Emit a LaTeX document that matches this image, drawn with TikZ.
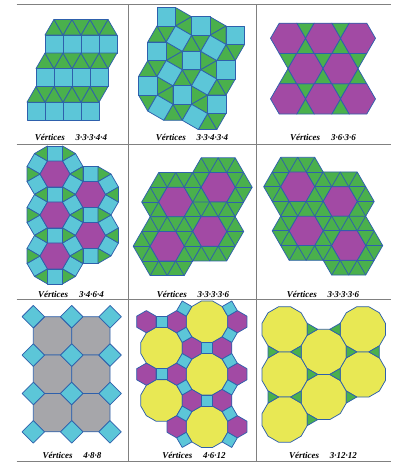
\documentclass[tikz,border=0pt]{standalone}
\usepackage{fontspec}
\setmainfont{Liberation Serif}
\definecolor{tilecyan}{RGB}{92,198,216}
\definecolor{tilegreen}{RGB}{74,176,76}
\definecolor{tilemagenta}{RGB}{162,74,164}
\definecolor{tileyellow}{RGB}{232,232,84}
\definecolor{tilegray}{RGB}{166,166,170}
\definecolor{tileedge}{RGB}{46,96,172}
\colorlet{rulecol}{black!50}
\tikzset{
  tile/.style={draw=tileedge, line width=0.75pt, line join=round},
  sqtile/.style={tile, fill=tilecyan},
  tritile/.style={tile, fill=tilegreen},
  hextile/.style={tile, fill=tilemagenta},
  octtile/.style={tile, fill=tilegray},
  dodtile/.style={tile, fill=tileyellow},
  lbl/.style={font=\bfseries\itshape\fontsize{9}{11}\selectfont, inner sep=0pt},
  snubcell/.style 2 args={shift={({#1*1.866+#2*0.5},{-#1*0.5+#2*1.866})}}
}

\begin{document}
\begin{tikzpicture}[x=1pt, y=-1pt]

  \fill[white] (0,0) rectangle (394,464);
  \useasboundingbox (0,0) rectangle (394,464);

  % Table rules.
  \foreach \y in {4.3,144,299.3,461.7}
    \draw[rulecol, line width=0.8pt] (16.7,\y) -- (390.5,\y);
  \foreach \x in {128.3,256}
    \draw[rulecol, line width=0.8pt] (\x,4.3) -- (\x,461.7);

  % 3.3.3.4.4
  \begin{scope}[shift={(27,120.2)}, x=18pt, y=18pt]
    \foreach \r in {0,1,2}
      \foreach \k in {0,...,3} {
        \draw[sqtile] ({\k+0.5*\r},{\r*1.866}) rectangle ++(1,1);
        \draw[tritile] ({\k+0.5*\r},{\r*1.866+1}) -- ++(1,0) -- ++(-0.5,0.866) -- cycle;
      }
    \foreach \r/\n in {0/3,1/3,2/2}
      \foreach \k in {0,...,\n}
        \draw[tritile] ({\k+1+0.5*\r},{\r*1.866+1}) -- ++(0.5,0.866) -- ++(-1,0) -- cycle;
  \end{scope}

  % 3.3.4.3.4
  \begin{scope}[shift={(157,26)}, x=18.5pt, y=18.5pt]
    \foreach \i/\j in {0/-1,0/-2,1/-1,1/-2,1/-3,2/-1,2/-2,2/-3}
      \draw[tritile, snubcell={\i}{\j}] (0,1) -- (1,1) -- (0.5,1.866) -- cycle;
    \foreach \i/\j in {0/0,0/-1,0/-2,1/0,1/-1,1/-2}
      \draw[tritile, snubcell={\i}{\j}] (1,0) -- (1,1) -- (1.866,0.5) -- cycle;
    \foreach \i in {0,1,2}
      \foreach \j in {-1,-2,-3}
        \draw[tritile, snubcell={\i}{\j}] (1,1) -- (1.5,1.866) -- (0.5,1.866) -- cycle;
    \foreach \i/\j in {1/0,1/-1,1/-2,2/0,2/-1,2/-2}
      \draw[tritile, snubcell={\i}{\j}] (0,0) -- (0,1) -- (-0.866,0.5) -- cycle;
    \foreach \i in {0,1,2}
      \foreach \j in {0,-1,-2}
        \draw[sqtile, snubcell={\i}{\j}] (0,0) rectangle (1,1);
    \foreach \i in {0,1}
      \foreach \j in {-1,-2,-3}
        \draw[sqtile, snubcell={\i}{\j}] (1,1) -- (1.866,0.5) -- (2.366,1.366) -- (1.5,1.866) -- cycle;
  \end{scope}

  % 3.6.3.6
  \begin{scope}[shift={(288,38.3)}, x=17.5pt, y=17.5pt]
    \foreach \x/\y in {1/0,3/0,0/-1.732,2/-1.732,4/-1.732,1/-3.464,3/-3.464}
      \draw[tritile] (\x,\y) -- ++(-0.5,0.866) -- ++(1,0) -- cycle
                     (\x,\y) -- ++(-0.5,-0.866) -- ++(1,0) -- cycle;
    \foreach \x/\y in {0/0,2/0,4/0,1/-1.732,3/-1.732,0/-3.464,2/-3.464,4/-3.464}
      \draw[hextile, shift={(\x,\y)}] (0:1) -- (60:1) -- (120:1) -- (180:1) -- (240:1) -- (300:1) -- cycle;
  \end{scope}

  % 3.4.6.4
  \begin{scope}[shift={(55,174)}, x=15pt, y=15pt]
    \foreach \cx/\cy in {0/0,0/-2.732,0/-5.464,2.366/-1.366,2.366/-4.098} {
      \begin{scope}[shift={(\cx,\cy)}]
        \foreach \t in {30,90,...,330}
          \draw[sqtile] (\t-30:1) -- (\t+30:1) -- ++(\t:1) -- ++(\t-90:1) -- cycle;
        \foreach \a in {0,60,...,300}
          \draw[tritile] (\a:1) -- ++(\a-30:1) -- ++(\a+90:1) -- cycle;
        \draw[hextile] (0:1) -- (60:1) -- (120:1) -- (180:1) -- (240:1) -- (300:1) -- cycle;
      \end{scope}
    }
  \end{scope}

  % 3.3.3.3.6 (left hand)
  \begin{scope}[shift={(175.7,202)}, x=17pt, y=17pt]
    \foreach \cx/\cy in {0/0,2.5/0.866,2/-1.732,-0.5/-2.598} {
      \begin{scope}[shift={(\cx,\cy)}]
        \draw[tritile] (0:2) -- (60:2) -- (120:2) -- (180:2) -- (240:2) -- (300:2) -- cycle;
        \foreach \r in {0,60,120}
          \draw[tile, rotate=\r] (-2,0) -- (2,0) (-1.5,0.866) -- (1.5,0.866) (-1.5,-0.866) -- (1.5,-0.866);
        \draw[hextile] (0:1) -- (60:1) -- (120:1) -- (180:1) -- (240:1) -- (300:1) -- cycle;
      \end{scope}
    }
  \end{scope}

  % 3.3.3.3.6 (right hand)
  \begin{scope}[shift={(297.7,186.7)}, x=17pt, y=17pt]
    \foreach \cx/\cy in {0/0,2.5/-0.866,0.5/-2.598,3/-3.464} {
      \begin{scope}[shift={(\cx,\cy)}]
        \draw[tritile] (0:2) -- (60:2) -- (120:2) -- (180:2) -- (240:2) -- (300:2) -- cycle;
        \foreach \r in {0,60,120}
          \draw[tile, rotate=\r] (-2,0) -- (2,0) (-1.5,0.866) -- (1.5,0.866) (-1.5,-0.866) -- (1.5,-0.866);
        \draw[hextile] (0:1) -- (60:1) -- (120:1) -- (180:1) -- (240:1) -- (300:1) -- cycle;
      \end{scope}
    }
  \end{scope}

  % 4.8.8
  \begin{scope}[shift={(52.5,335.9)}, x=15.9pt, y=15.9pt]
    \foreach \c in {0,1}
      \foreach \r in {0,1,2}
        \draw[octtile, shift={(\c*2.414,-\r*2.414)}] (22.5:1.3066)
          \foreach \k in {1,...,7} { -- (22.5+45*\k:1.3066) } -- cycle;
    \foreach \c in {0,1,2}
      \foreach \r in {0,...,3}
        \draw[sqtile, shift={(\c*2.414-1.207,-\r*2.414+1.207)}]
          (0:0.7071) -- (90:0.7071) -- (180:0.7071) -- (270:0.7071) -- cycle;
  \end{scope}

  % 4.6.12
  \begin{scope}[shift={(207,321.7)}, x=11.1pt, y=11.1pt]
    \foreach \cx/\cy in {0/0,0/-4.732,0/-9.464,-4.098/-2.366,-4.098/-7.098}
      \draw[dodtile, shift={(\cx,\cy)}] (15:1.9319)
        \foreach \k in {1,...,11} { -- (15+30*\k:1.9319) } -- cycle;
    \foreach \cx/\cy in {-5.464/0,-2.732/0,2.732/0,-1.366/-2.366,1.366/-2.366,
                         -5.464/-4.732,-2.732/-4.732,2.732/-4.732,-1.366/-7.098,
                         1.366/-7.098,-2.732/-9.464,2.732/-9.464}
      \draw[hextile, shift={(\cx,\cy)}] (30:1) -- (90:1) -- (150:1) -- (210:1) -- (270:1) -- (330:1) -- cycle;
    \foreach \cx/\cy/\a in {-4.098/0/45,-2.049/1.183/15,2.049/1.183/75,-2.049/-1.183/75,
                            2.049/-1.183/15,0/-2.366/45,-2.049/-3.549/15,2.049/-3.549/75,
                            -4.098/-4.732/45,-2.049/-5.915/75,2.049/-5.915/15,0/-7.098/45,
                            -2.049/-8.281/15,2.049/-8.281/75,-2.049/-10.647/75,2.049/-10.647/15}
      \draw[sqtile, shift={(\cx,\cy)}] (\a:0.7071) -- (\a+90:0.7071) -- (\a+180:0.7071) -- (\a+270:0.7071) -- cycle;
  \end{scope}

  % 3.12.12
  \begin{scope}[shift={(284.6,329.3)}, x=12.1pt, y=12.1pt]
    \foreach \cx/\cy in {0/0,0/-3.732,0/-7.464,3.232/-1.866,3.232/-5.598,6.464/0,6.464/-3.732}
      \draw[dodtile, shift={(\cx,\cy)}] (15:1.9319)
        \foreach \k in {1,...,11} { -- (15+30*\k:1.9319) } -- cycle;
    \foreach \cx/\cy in {1.077/-1.866,1.077/-5.598,4.309/-3.732,4.309/0,7.541/-1.866}
      \draw[tritile, shift={(\cx,\cy)}] (180:0.5774) -- (60:0.5774) -- (300:0.5774) -- cycle;
    \foreach \cx/\cy in {-1.077/-1.866,-1.077/-5.598,2.155/-3.732,2.155/0,2.155/-7.464,5.387/-1.866,5.387/-5.598}
      \draw[tritile, shift={(\cx,\cy)}] (0:0.5774) -- (120:0.5774) -- (240:0.5774) -- cycle;
  \end{scope}

  % Labels.
  \node[lbl] (lab33344) at (71,137.3) {Vértices\hspace{1.2em}3·3·3·4·4};
  \node[lbl] (lab33434) at (192,137.3) {Vértices\hspace{1.2em}3·3·4·3·4};
  \node[lbl] (lab3636) at (323,137.3) {Vértices\hspace{1.2em}3·6·3·6};
  \node[lbl] (lab3464) at (71,294) {Vértices\hspace{1.2em}3·4·6·4};
  \node[lbl] (lab33336a) at (193,294) {Vértices\hspace{1.2em}3·3·3·3·6};
  \node[lbl] (lab33336b) at (323,294) {Vértices\hspace{1.2em}3·3·3·3·6};
  \node[lbl] (lab488) at (72,455) {Vértices\hspace{1.2em}4·8·8};
  \node[lbl] (lab4612) at (194,455) {Vértices\hspace{1.2em}4·6·12};
  \node[lbl] (lab31212) at (323,455) {Vértices\hspace{1.2em}3·12·12};

\end{tikzpicture}
\end{document}
